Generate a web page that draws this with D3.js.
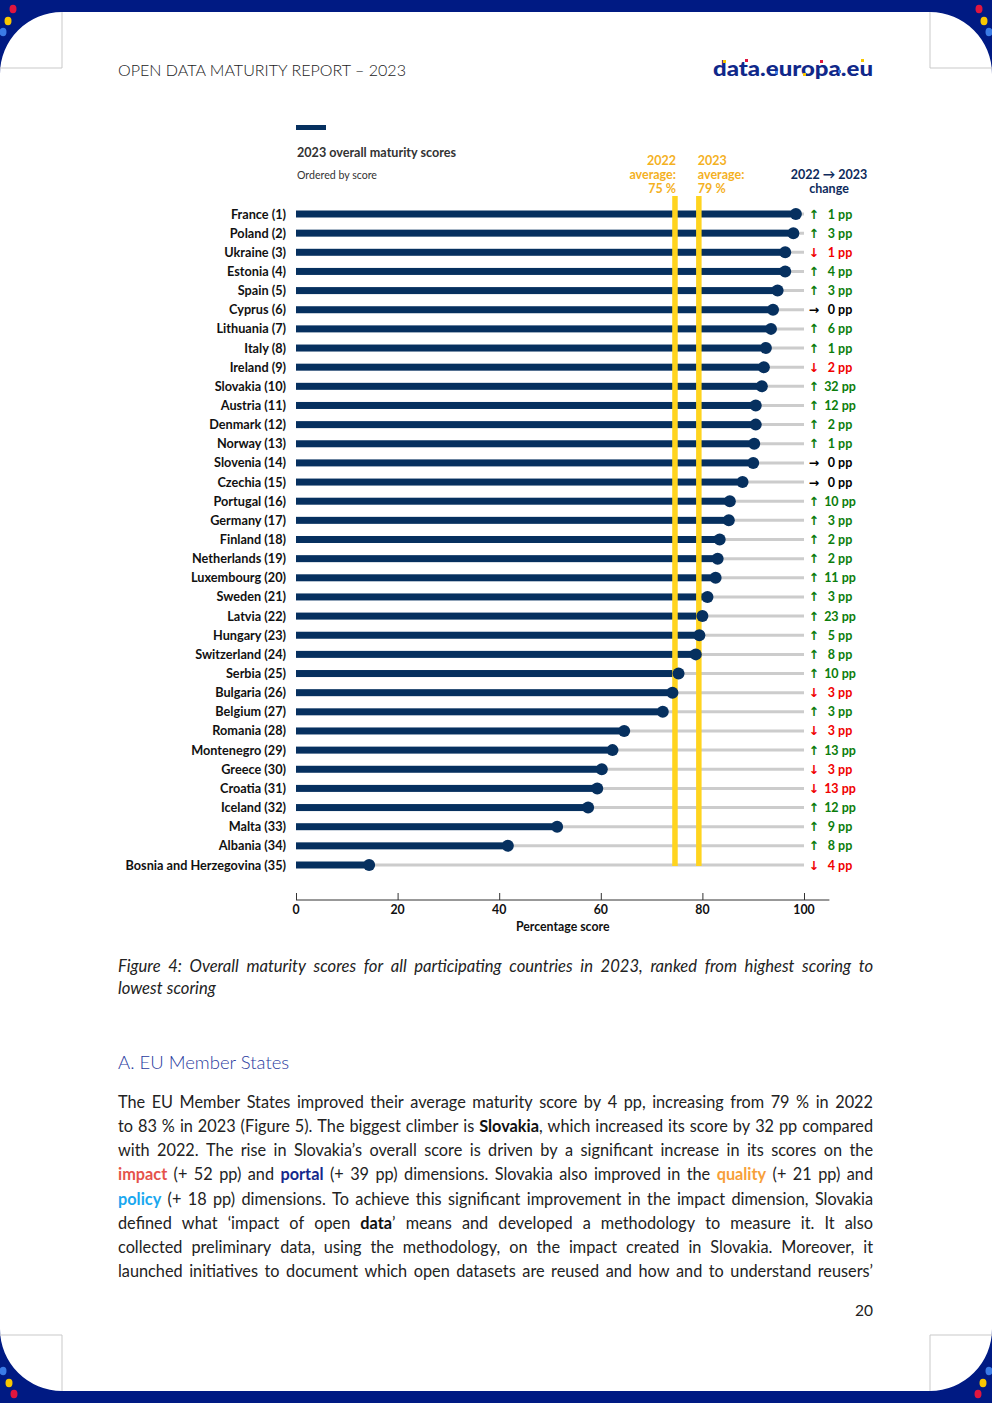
<!DOCTYPE html>
<html><head><meta charset="utf-8">
<script src="https://cdn.jsdelivr.net/npm/d3@7"></script>
<style>body{margin:0;background:#fff} svg{display:block}</style>
</head><body><svg id="c" width="992" height="1403"></svg>
<script>
// ---------- DATA ----------
const countries = ["France","Poland","Ukraine","Estonia","Spain","Cyprus","Lithuania","Italy","Ireland","Slovakia",
  "Austria","Denmark","Norway","Slovenia","Czechia","Portugal","Germany","Finland","Netherlands","Luxembourg",
  "Sweden","Latvia","Hungary","Switzerland","Serbia","Bulgaria","Belgium","Romania","Montenegro","Greece",
  "Croatia","Iceland","Malta","Albania","Bosnia and Herzegovina"];
const scores2023 = [98.4,97.9,96.3,96.3,94.8,93.9,93.5,92.5,92.1,91.7,
  90.5,90.5,90.2,90.0,87.9,85.4,85.2,83.4,83.0,82.6,
  81.0,80.0,79.4,78.7,75.3,74.1,72.2,64.6,62.3,60.2,
  59.3,57.5,51.4,41.7,14.4];
const changes = [1,3,-1,4,3,0,6,1,-2,32,
  12,2,1,0,0,10,3,2,2,11,
  3,23,5,8,10,-3,3,-3,13,-3,
  -13,12,9,8,-4];
const averages = [74.6, 79.3];
const averageLabels = [["2022","average:","75 %"],["2023","average:","79 %"]];
const tickValues = [0,20,40,60,80,100];

// ---------- PAGE ----------
const svg = d3.select("#c");
const NAVY_PAGE = "#001a83";
svg.append("rect").attr("x",0).attr("y",0).attr("width",992).attr("height",12).attr("fill",NAVY_PAGE);
svg.append("rect").attr("x",0).attr("y",1391).attr("width",992).attr("height",12).attr("fill",NAVY_PAGE);
const corners = [
  "M0,12 L62,12 A62,62 0 0 0 0,74 Z",
  "M992,12 L930,12 A62,62 0 0 1 992,74 Z",
  "M0,1391 L62,1391 A62,62 0 0 1 0,1329 Z",
  "M992,1391 L930,1391 A62,62 0 0 0 992,1329 Z"];
corners.forEach(d=>svg.append("path").attr("d",d).attr("fill",NAVY_PAGE));
const gl = [[62,12,62,68],[0,68,62,68],[930,12,930,68],[930,68,992,68],
            [62,1335,62,1391],[0,1335,62,1335],[930,1335,930,1391],[930,1335,992,1335]];
gl.forEach(l=>svg.append("line").attr("x1",l[0]).attr("y1",l[1]).attr("x2",l[2]).attr("y2",l[3])
  .attr("stroke","#c9c9c9").attr("stroke-width",1));
const dots = [[13,9,"#e0163f"],[8,21,"#f9c700"],[3,32,"#3b7be6"],
              [979,9,"#e0163f"],[984,21,"#f9c700"],[989,32,"#3b7be6"],
              [3,1371,"#3b7be6"],[9,1383,"#f9c700"],[14,1394,"#e0163f"],
              [989,1371,"#3b7be6"],[983,1383,"#f9c700"],[978,1394,"#e0163f"]];
dots.forEach(p=>svg.append("ellipse").attr("cx",p[0]).attr("cy",p[1]).attr("rx",3.5).attr("ry",4.2).attr("fill",p[2]));

svg.append("text").attr("x",118).attr("y",76).attr("font-family","Lato").attr("font-weight",300)
  .attr("font-size",16.5).attr("fill","#222").attr("textLength",288).attr("lengthAdjust","spacingAndGlyphs")
  .text("OPEN DATA MATURITY REPORT – 2023");
svg.append("text").attr("x",713).attr("y",76).attr("font-family","Lato").attr("font-weight",900)
  .attr("font-size",21).attr("fill","#10288a").attr("textLength",160).attr("lengthAdjust","spacingAndGlyphs")
  .text("data.europa.eu");
[[723,60,"#f9c700"],[745,59,"#e0163f"],[775,71,"#3b7be6"],[803,73,"#f9c700"],[820,60,"#e0163f"],[838,70,"#3b7be6"],[861,59,"#f9c700"]]
  .forEach(p=>svg.append("rect").attr("x",p[0]).attr("y",p[1]).attr("width",3).attr("height",3).attr("fill",p[2]));
svg.append("text").attr("x",873).attr("y",1316).attr("text-anchor","end").attr("font-family","Lato")
  .attr("font-size",15.5).attr("fill","#222").text("20");

// ---------- CHART ----------
const NAVY = "#06305f", YEL = "#ffd41f", ORG = "#f4b11f", GREEN = "#0b7d0b", RED = "#f00000";
const F = "Lato";
const x = d3.scaleLinear().domain([0,105]).range([296,829.4]);
const y = d3.scalePoint().domain(countries).range([214,865]);

svg.append("rect").attr("x",296).attr("y",125).attr("width",30).attr("height",5).attr("fill",NAVY);
svg.append("text").attr("x",297).attr("y",157).attr("font-family",F).attr("font-weight",700)
  .attr("font-size",12.6).attr("fill","#333").text("2023 overall maturity scores");
svg.append("text").attr("x",297).attr("y",179).attr("font-family",F)
  .attr("font-size",10.6).attr("fill","#333").text("Ordered by score");

averageLabels.forEach((lines,i)=>{
  const t = svg.append("text").attr("font-family",F).attr("font-weight",700).attr("font-size",12.5)
    .attr("fill",ORG).attr("text-anchor", i===0?"end":"start");
  lines.forEach((s,k)=>t.append("tspan").attr("x", i===0 ? x(averages[0])+1 : x(averages[1])-1)
    .attr("y",165+k*14).text(s));
});
const ch = svg.append("text").attr("font-family",F).attr("font-weight",700).attr("font-size",12.5)
  .attr("fill","#0d2a5c").attr("text-anchor","middle");
ch.append("tspan").attr("x",829).attr("y",179).text("2022 → 2023");
ch.append("tspan").attr("x",829).attr("y",193).text("change");

const rows = svg.append("g");
rows.selectAll(".track").data(countries).join("line")
  .attr("x1",x(0)).attr("x2",x(100)).attr("y1",d=>y(d)).attr("y2",d=>y(d))
  .attr("stroke","#cccccc").attr("stroke-width",3);
rows.selectAll(".bar").data(countries).join("rect")
  .attr("x",x(0)).attr("y",d=>y(d)-3.5).attr("height",7)
  .attr("width",(d,i)=>x(scores2023[i])-x(0)).attr("fill",NAVY);
averages.forEach(a=>svg.append("rect").attr("x",x(a)-2.75).attr("y",196).attr("width",5.5)
  .attr("height",y(countries[countries.length-1])+1-196).attr("fill",YEL));
svg.append("g").selectAll("circle").data(countries).join("circle")
  .attr("cx",(d,i)=>x(scores2023[i])).attr("cy",d=>y(d)).attr("r",6).attr("fill",NAVY);
svg.append("g").selectAll("text").data(countries).join("text")
  .attr("x",286).attr("y",d=>y(d)+4.5).attr("text-anchor","end")
  .attr("font-family",F).attr("font-weight",700).attr("font-size",12.7).attr("fill","#111")
  .text((d,i)=>`${d} (${i+1})`);
const col = v => v>0?GREEN:(v<0?RED:"#000");
svg.append("g").selectAll("text").data(changes).join("text")
  .attr("x",814).attr("y",(v,i)=>y(countries[i])+4.5).attr("text-anchor","middle")
  .attr("font-family","DejaVu Sans").attr("font-weight",700).attr("font-size",12.5).attr("fill",col)
  .text(v=>v>0?"↑":(v<0?"↓":"→"));
svg.append("g").selectAll("text").data(changes).join("text")
  .attr("x",840).attr("y",(v,i)=>y(countries[i])+4.5).attr("text-anchor","middle")
  .attr("font-family",F).attr("font-weight",700).attr("font-size",12.5).attr("fill",col)
  .text(v=>`${Math.abs(v)} pp`);

const ax = svg.append("g").attr("transform","translate(0,900)")
  .call(d3.axisTop(x).tickValues(tickValues).tickSize(7).tickFormat(""));
ax.select(".domain").attr("stroke","#333").attr("d",`M${x(0)},0H${x(105)}`);
ax.selectAll(".tick line").attr("stroke","#333");
svg.append("g").selectAll("text").data(tickValues).join("text")
  .attr("x",d=>x(d)).attr("y",914).attr("text-anchor","middle")
  .attr("font-family",F).attr("font-weight",700).attr("font-size",12.3).attr("fill","#111").text(d=>d);
svg.append("text").attr("x",(x(0)+x(105))/2).attr("y",931).attr("text-anchor","middle")
  .attr("font-family",F).attr("font-weight",700).attr("font-size",12.3).attr("fill","#111").text("Percentage score");

// ---------- CAPTION & BODY ----------
const cap = ["Figure 4: Overall maturity scores for all participating countries in 2023, ranked from highest scoring to",
             "lowest scoring"];
const styles = {
  n:{w:400,c:"#222"}, b:{w:700,c:"#111"}, imp:{w:700,c:"#e5534b"}, por:{w:700,c:"#15288c"},
  qua:{w:700,c:"#f7a03a"}, pol:{w:700,c:"#1aa8ef"}
};
function justify(lineStr, yy, opts){
  const words = lineStr.split(" ");
  const gs = words.map(w=>{
    const t = svg.append("text").attr("y",yy).attr("font-family",F).attr("font-size",opts.size)
      .attr("font-style",opts.italic?"italic":"normal");
    const re = /\{(\w+):([^}]*)\}|[^{]+/g; let m;
    while((m=re.exec(w))){
      const st = m[1]?styles[m[1]]:styles.n; const tx = m[1]?m[2]:m[0];
      t.append("tspan").attr("font-weight",st.w).attr("fill",st.c).text(tx);
    }
    return t;
  });
  const widths = gs.map(g=>g.node().getComputedTextLength());
  const total = d3.sum(widths);
  const gap = opts.justify && words.length>1 ? (opts.x1-opts.x0-total)/(words.length-1) : opts.space;
  let cx = opts.x0;
  gs.forEach((g,i)=>{g.attr("x",cx); cx += widths[i]+gap;});
}
justify(cap[0],972,{x0:118,x1:873,size:16.6,italic:true,justify:true});
justify(cap[1],994,{x0:118,x1:873,size:16.6,italic:true,justify:false,space:4.2});

svg.append("text").attr("x",118).attr("y",1069).attr("font-family",F).attr("font-weight",300)
  .attr("font-size",18.5).attr("fill","#2a3b9e").text("A. EU Member States");

const body = [
  "The EU Member States improved their average maturity score by 4 pp, increasing from 79 % in 2022",
  "to 83 % in 2023 (Figure 5). The biggest climber is {b:Slovakia}, which increased its score by 32 pp compared",
  "with 2022. The rise in Slovakia’s overall score is driven by a significant increase in its scores on the",
  "{imp:impact} (+ 52 pp) and {por:portal} (+ 39 pp) dimensions. Slovakia also improved in the {qua:quality} (+ 21 pp) and",
  "{pol:policy} (+ 18 pp) dimensions. To achieve this significant improvement in the impact dimension, Slovakia",
  "defined what ‘impact of open {b:data}’ means and developed a methodology to measure it. It also",
  "collected preliminary data, using the methodology, on the impact created in Slovakia. Moreover, it",
  "launched initiatives to document which open datasets are reused and how and to understand reusers’"
];
body.forEach((l,i)=>justify(l,1108+i*24.15,{x0:118,x1:873,size:16.3,justify:true}));
</script></body></html>
